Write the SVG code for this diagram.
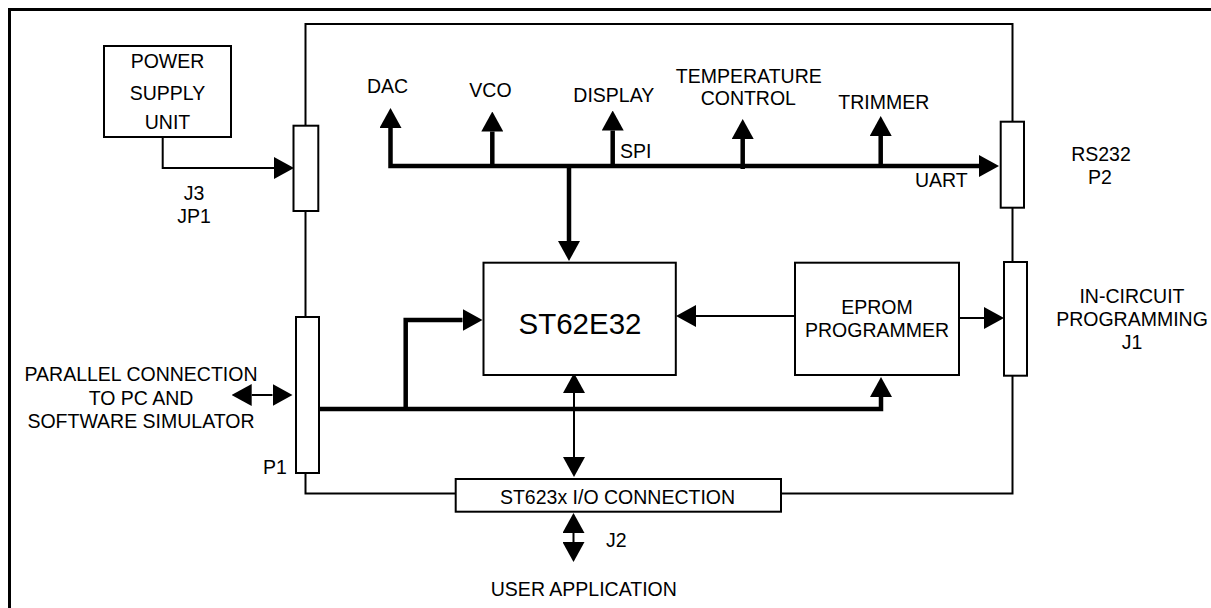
<svg xmlns="http://www.w3.org/2000/svg" width="1211" height="608" viewBox="0 0 1211 608">
<style>
text{font-family:"Liberation Sans",Arial,sans-serif;font-size:19.5px;fill:#000}
.m{text-anchor:middle}
.box{fill:#fff;stroke:#000;stroke-width:2}
.thin{fill:none;stroke:#000;stroke-width:2}
.bus{fill:none;stroke:#000;stroke-width:4.5}
.a{marker-end:url(#ah)}
.b{marker-start:url(#ah);marker-end:url(#ah)}
</style>
<defs>
<marker id="ah" markerUnits="userSpaceOnUse" viewBox="0 0 20 22" markerWidth="20" markerHeight="22" refX="0" refY="11" orient="auto-start-reverse">
<path d="M0,0 L20,11 L0,22 Z" fill="#000"/>
</marker>
</defs>
<g id="frame">
<path d="M9.5,608 V9.5 H1211" fill="none" stroke="#000" stroke-width="3"/>
</g>
<g id="board">
<rect x="305.5" y="24" width="707" height="469.5" fill="none" stroke="#000" stroke-width="2"/>
</g>
<g id="connectors">
<polyline class="thin a" points="162.7,137 162.7,168 274,168"/>
<polyline class="bus b" points="390.5,128 390.5,166 979,166"/>
<line class="bus a" x1="492.3" y1="166" x2="492.3" y2="131.5"/>
<line class="bus a" x1="612.7" y1="166" x2="612.7" y2="130.5"/>
<line class="bus a" x1="742.7" y1="169" x2="742.7" y2="139"/>
<line class="bus a" x1="880.7" y1="166" x2="880.7" y2="136"/>
<line class="bus a" x1="569" y1="166" x2="569" y2="241"/>
<polyline class="bus a" points="319,409 881,409 881,397"/>
<polyline class="bus a" points="405.7,409 405.7,320 462.5,320"/>
<line class="thin a" x1="795" y1="316" x2="696" y2="316"/>
<line class="thin a" x1="959" y1="318" x2="984" y2="318"/>
<line class="thin b" x1="574" y1="393" x2="574" y2="457"/>
<line class="thin b" x1="573.5" y1="533" x2="573.5" y2="542"/>
<line class="thin b" x1="251.7" y1="395" x2="272.5" y2="395"/>
</g>
<g id="psu">
<rect class="box" x="104" y="46" width="127" height="91"/>
<text class="m" x="167.5" y="68.3">POWER</text>
<text class="m" x="167.5" y="100">SUPPLY</text>
<text class="m" x="167.5" y="129">UNIT</text>
</g>
<g id="jp1">
<rect class="box" x="293.5" y="125.7" width="24.8" height="85.3"/>
<text class="m" x="194" y="200">J3</text>
<text class="m" x="194" y="223">JP1</text>
</g>
<g id="p1">
<rect class="box" x="296" y="317" width="23" height="156"/>
<text x="263" y="474">P1</text>
</g>
<g id="rs232">
<rect class="box" x="1000.7" y="121.7" width="23.3" height="86"/>
<text class="m" x="1101" y="160.7">RS232</text>
<text class="m" x="1100" y="184">P2</text>
</g>
<g id="j1">
<rect class="box" x="1004" y="262" width="23" height="113.7"/>
<text class="m" x="1132" y="302.7">IN-CIRCUIT</text>
<text class="m" x="1132" y="326">PROGRAMMING</text>
<text class="m" x="1132" y="349.3">J1</text>
</g>
<g id="st62e32">
<rect class="box" x="483.5" y="262.7" width="192.3" height="112.3"/>
<text class="m" x="580" y="334" style="font-size:29.5px">ST62E32</text>
</g>
<g id="eprom">
<rect class="box" x="795" y="262.7" width="164" height="112.3"/>
<text class="m" x="877" y="314">EPROM</text>
<text class="m" x="877" y="336.7">PROGRAMMER</text>
</g>
<g id="io">
<rect class="box" x="455.7" y="479" width="325.3" height="32.7"/>
<text class="m" x="617.5" y="504.3">ST623x I/O CONNECTION</text>
</g>
<g id="labels">
<text class="m" x="387.5" y="93.3">DAC</text>
<text class="m" x="490.5" y="96.7">VCO</text>
<text class="m" x="613.8" y="101.7">DISPLAY</text>
<text x="620" y="158.3">SPI</text>
<text class="m" x="748.8" y="82.7">TEMPERATURE</text>
<text class="m" x="748.3" y="105">CONTROL</text>
<text class="m" x="883.8" y="109.3">TRIMMER</text>
<text x="915" y="187.3">UART</text>
<text class="m" x="141" y="381">PARALLEL CONNECTION</text>
<text class="m" x="141" y="405">TO PC AND</text>
<text class="m" x="141" y="428">SOFTWARE SIMULATOR</text>
<text x="606" y="547.3">J2</text>
<text class="m" x="583.8" y="596">USER APPLICATION</text>
</g>
</svg>
